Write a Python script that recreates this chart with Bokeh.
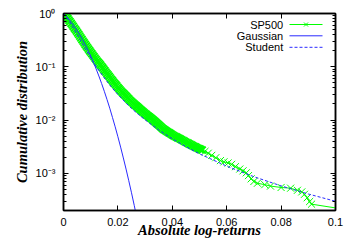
from bokeh.plotting import figure
from bokeh.models import (Range1d, FixedTicker, LinearAxis, LogAxis, Label, Arrow,
                          CustomJSTickFormatter)
from bokeh.embed import file_html
from bokeh.resources import INLINE

# ---------------- data ----------------
sp_x = [0.0000, 0.0004, 0.0008, 0.0012, 0.0016, 0.0020, 0.0024, 0.0028, 0.0032, 0.0036,
        0.0040, 0.0044, 0.0048, 0.0052, 0.0056, 0.0060, 0.0064, 0.0068, 0.0072, 0.0076,
        0.0080, 0.0084, 0.0088, 0.0092, 0.0096, 0.0100, 0.0104, 0.0108, 0.0112, 0.0116,
        0.0120, 0.0124, 0.0128, 0.0132, 0.0136, 0.0140, 0.0144, 0.0148, 0.0152, 0.0156,
        0.0160, 0.0164, 0.0168, 0.0172, 0.0176, 0.0180, 0.0184, 0.0188, 0.0192, 0.0196,
        0.0200, 0.0204, 0.0208, 0.0212, 0.0216, 0.0220, 0.0224, 0.0228, 0.0232, 0.0236,
        0.0240, 0.0244, 0.0248, 0.0252, 0.0256, 0.0260, 0.0264, 0.0268, 0.0272, 0.0276,
        0.0280, 0.0284, 0.0288, 0.0292, 0.0296, 0.0300, 0.0304, 0.0308, 0.0312, 0.0316,
        0.0320, 0.0324, 0.0328, 0.0332, 0.0336, 0.0340, 0.0344, 0.0348, 0.0352, 0.0356,
        0.0360, 0.0364, 0.0368, 0.0372, 0.0376, 0.0380, 0.0384, 0.0388, 0.0392, 0.0396,
        0.0400, 0.0405, 0.0410, 0.0415, 0.0420, 0.0425, 0.0430, 0.0435, 0.0440, 0.0445,
        0.0450, 0.0455, 0.0460, 0.0465, 0.0470, 0.0475, 0.0480, 0.0485, 0.0490, 0.0495,
        0.0500, 0.0505, 0.0510, 0.0520, 0.0532, 0.0545, 0.0560, 0.0577, 0.0590, 0.0605,
        0.0618, 0.0632, 0.0648, 0.0660, 0.0672, 0.0680, 0.0690, 0.0700, 0.0713, 0.0740,
        0.0761, 0.0800, 0.0835, 0.0860, 0.0876, 0.0886, 0.0896, 0.0905, 0.0912, 0.1060]
sp_y = [1.0, 0.947, 0.897, 0.846, 0.798, 0.748, 0.702, 0.655, 0.611, 0.571,
        0.533, 0.498, 0.466, 0.434, 0.405, 0.376, 0.349, 0.325, 0.303, 0.282,
        0.262, 0.245, 0.229, 0.214, 0.200, 0.188, 0.176, 0.165, 0.155, 0.145,
        0.136, 0.128, 0.121, 0.114, 0.108, 0.1017, 0.0957, 0.0898, 0.0843, 0.0792,
        0.0745, 0.0700, 0.0658, 0.0617, 0.0579, 0.0547, 0.0516, 0.0488, 0.0461, 0.0435,
        0.0411, 0.0389, 0.0368, 0.0349, 0.0331, 0.0316, 0.0301, 0.0287, 0.0274, 0.0261,
        0.0248, 0.0237, 0.0226, 0.0217, 0.0208, 0.0199, 0.0191, 0.0183, 0.0176, 0.0169,
        0.0162, 0.0155, 0.0149, 0.0143, 0.0137, 0.0132, 0.0127, 0.0122, 0.0118, 0.0114,
        0.0110, 0.0106, 0.0102, 0.00978, 0.00938, 0.00899, 0.00861, 0.00825, 0.00791, 0.00758,
        0.00726, 0.00698, 0.00671, 0.00651, 0.00631, 0.00612, 0.00594, 0.00577, 0.00560, 0.00543,
        0.00527, 0.00510, 0.00494, 0.00479, 0.00465, 0.00451, 0.00437, 0.00423, 0.00410, 0.00397,
        0.00385, 0.00373, 0.00362, 0.00351, 0.00340, 0.00330, 0.00321, 0.00312, 0.00303, 0.00294,
        0.00286, 0.00279, 0.00272, 0.00257, 0.00238, 0.00217, 0.00196, 0.00173, 0.00164, 0.00156,
        0.00147, 0.00133, 0.00120, 0.00111, 0.00102, 0.000904, 0.000787, 0.000701, 0.000650, 0.000611,
        0.000575, 0.000541, 0.000525, 0.000479, 0.000447, 0.000403, 0.000347, 0.000295, 0.000263, 0.000200]

gauss_x = [0.000, 0.001, 0.002, 0.003, 0.004, 0.005, 0.006, 0.007, 0.008, 0.009,
           0.010, 0.011, 0.012, 0.013, 0.014, 0.015, 0.016, 0.017, 0.018, 0.019,
           0.020, 0.021, 0.022, 0.023, 0.024, 0.025, 0.026, 0.027]
gauss_y = [1.0, 0.888, 0.778, 0.673, 0.573, 0.481, 0.398, 0.324, 0.260, 0.205,
           0.159, 0.121, 0.0910, 0.0671, 0.0486, 0.0346, 0.0242, 0.0167, 0.0112, 0.00745,
           0.00485, 0.00310, 0.00194, 0.00120, 0.000724, 0.000430, 0.000250, 0.000143]

student_x = [0.000, 0.001, 0.002, 0.003, 0.004, 0.005, 0.006, 0.007, 0.008, 0.009,
             0.010, 0.011, 0.012, 0.0135, 0.015, 0.0175, 0.020, 0.0225, 0.025, 0.0275,
             0.030, 0.035, 0.040, 0.045, 0.050, 0.060, 0.070, 0.080, 0.090, 0.100]
student_y = [1.0, 0.859, 0.724, 0.601, 0.494, 0.403, 0.328, 0.267, 0.218, 0.179,
             0.148, 0.122, 0.102, 0.0788, 0.0618, 0.0423, 0.0303, 0.0221, 0.0165, 0.0128,
             0.0101, 0.00651, 0.00444, 0.00316, 0.00232, 0.00136, 0.000862, 0.000580, 0.000408, 0.000298]

x_ticks = [0, 0.02, 0.04, 0.06, 0.08, 0.1]
x_tick_labels = ["0", "0.02", "0.04", "0.06", "0.08", "0.1"]
y_ticks = [1, 0.1, 0.01, 0.001]
y_tick_labels = ["10\u2070", "10\u207b\u00b9", "10\u207b\u00b2", "10\u207b\u00b3"]
legend_labels = ["SP500", "Gaussian", "Student"]

GREEN = "#00ff00"
BLUE = "#2a2aff"
SANS = "Liberation Sans"
SERIF = "Liberation Serif"

y_minor = [m * 10.0 ** e for e in range(-4, 0) for m in range(2, 10)]

p = figure(width=353, height=247, x_range=Range1d(0, 0.1), y_range=Range1d(2e-4, 1),
           y_axis_type="log", output_backend="svg", toolbar_location=None,
           min_border_left=63, min_border_right=18, min_border_top=13, min_border_bottom=37)
p.grid.visible = False
p.outline_line_color = "black"
p.outline_line_width = 1.5
p.background_fill_color = "white"
p.border_fill_color = "white"

xfmt = CustomJSTickFormatter(args=dict(tv=x_ticks, lb=x_tick_labels), code="""
let b = 0, d = Infinity;
for (let i = 0; i < tv.length; i++) { const e = Math.abs(tv[i] - tick); if (e < d) { d = e; b = i; } }
return lb[b];
""")
yfmt = CustomJSTickFormatter(args=dict(tv=y_ticks, lb=y_tick_labels), code="""
let b = 0, d = Infinity;
for (let i = 0; i < tv.length; i++) { const e = Math.abs(Math.log10(tv[i]) - Math.log10(tick)); if (e < d) { d = e; b = i; } }
return lb[b];
""")
empty = CustomJSTickFormatter(code="return '';")

def style(ax):
    ax.axis_line_color = "black"
    ax.axis_line_width = 1.5
    ax.major_tick_in = 5
    ax.major_tick_out = 0
    ax.minor_tick_in = 3
    ax.minor_tick_out = 0
    ax.major_tick_line_color = "black"
    ax.minor_tick_line_color = "black"
    ax.major_tick_line_width = 1
    ax.minor_tick_line_width = 1

xa = p.xaxis[0]
style(xa)
xa.ticker = FixedTicker(ticks=x_ticks, minor_ticks=[])
xa.formatter = xfmt
xa.major_label_text_font = SANS
xa.major_label_text_font_size = "11px"
xa.major_label_text_color = "black"
xa.major_label_standoff = 7
xa.axis_label = "Absolute log-returns"
xa.axis_label_text_font = SERIF
xa.axis_label_text_font_style = "bold italic"
xa.axis_label_text_font_size = "14.5px"
xa.axis_label_text_color = "black"
xa.axis_label_standoff = -7

ya = p.yaxis[0]
style(ya)
ya.ticker = FixedTicker(ticks=y_ticks, minor_ticks=y_minor)
ya.formatter = yfmt
ya.major_label_text_font = SANS
ya.major_label_text_font_size = "11px"
ya.major_label_text_color = "black"
ya.major_label_standoff = 8
ya.axis_label = "Cumulative distribution"
ya.axis_label_text_font = SERIF
ya.axis_label_text_font_style = "bold italic"
ya.axis_label_text_font_size = "14.5px"
ya.axis_label_text_color = "black"
ya.axis_label_standoff = 3

top = LinearAxis(ticker=FixedTicker(ticks=x_ticks, minor_ticks=[]), formatter=empty,
                 major_label_text_font_size="0px", major_label_standoff=0)
style(top)
p.add_layout(top, "above")
right = LogAxis(ticker=FixedTicker(ticks=y_ticks, minor_ticks=y_minor), formatter=empty,
                major_label_text_font_size="0px", major_label_standoff=0)
style(right)
p.add_layout(right, "right")

# ---------------- series ----------------
# heavier strokes where the points overlap into a solid band
marker_widths = [1.8 if x < 0.052 else 1.0 for x in sp_x]
p.line(sp_x, sp_y, line_color=GREEN, line_width=1)
p.scatter(x=sp_x, y=sp_y, marker="x", size=10, line_color=GREEN, line_width=marker_widths)
p.line(gauss_x, gauss_y, line_color=BLUE, line_width=1)
p.line(student_x, student_y, line_color=BLUE, line_width=1, line_dash="3 2")

# ---------------- legend (gnuplot style: text, then sample) ----------------
# positions in screen units relative to the plot frame (origin bottom-left)
row_y = [186.0, 174.7, 163.2]
text_right = 219.7
s0, s1 = 226, 259
styles = [dict(line_color=GREEN, line_dash="solid"),
          dict(line_color=BLUE, line_dash="solid"),
          dict(line_color=BLUE, line_dash="3 2")]
for lab, ry, st in zip(legend_labels, row_y, styles):
    p.add_layout(Label(x=text_right, y=ry, x_units="screen", y_units="screen", text=lab,
                       text_align="right", text_baseline="middle", text_font=SANS,
                       text_font_size="11px", text_color="black"))
    p.add_layout(Arrow(start=None, end=None, x_start=s0, y_start=ry, x_end=s1, y_end=ry,
                       start_units="screen", end_units="screen", line_width=1, **st))
cx, cy = (s0 + s1) / 2, row_y[0]
for dx in (-2, 2):
    p.add_layout(Arrow(start=None, end=None, x_start=cx - dx, y_start=cy - 2, x_end=cx + dx,
                       y_end=cy + 2, start_units="screen", end_units="screen",
                       line_color=GREEN, line_width=1))

open("out.html", "w").write(file_html(p, INLINE))
